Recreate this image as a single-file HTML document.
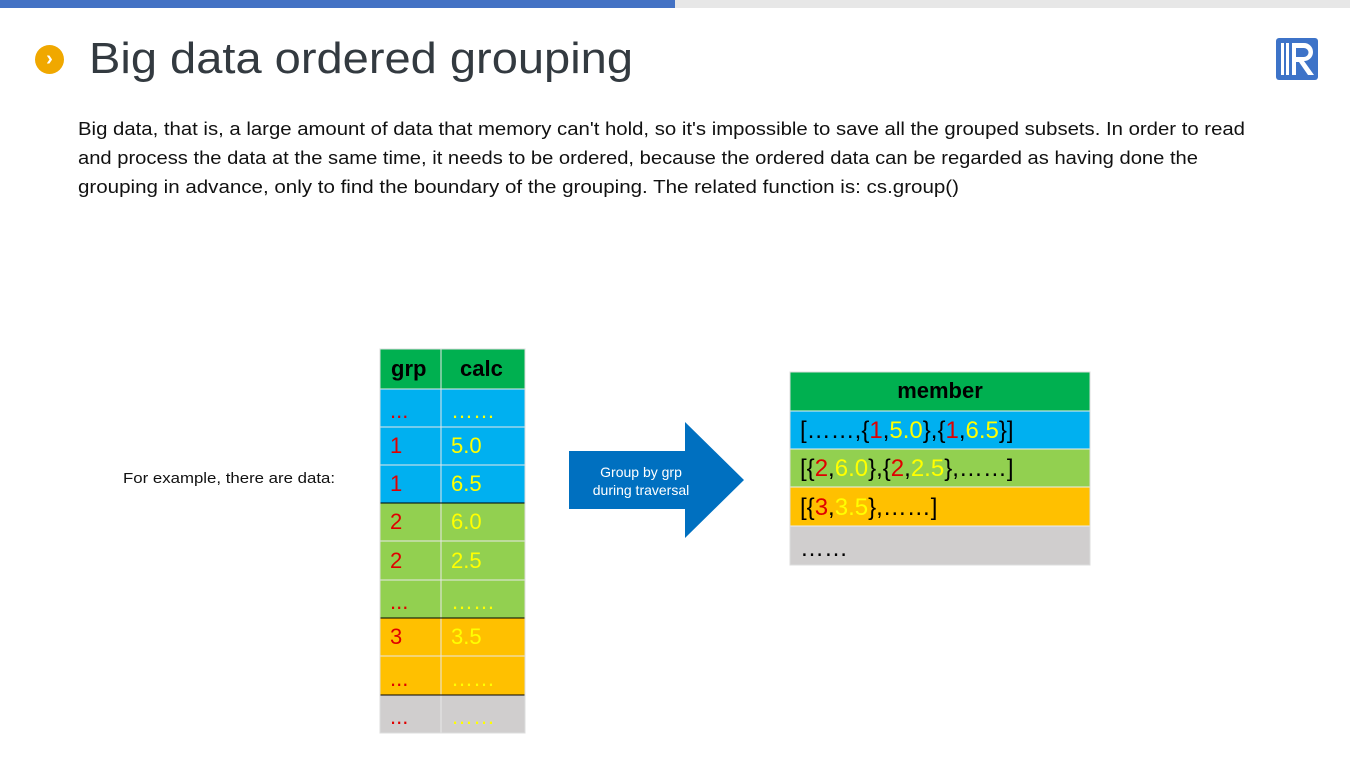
<!DOCTYPE html>
<html><head><meta charset="utf-8"><style>
body{margin:0;width:1350px;height:759px;background:#fff;position:relative;overflow:hidden;font-family:"Liberation Sans",sans-serif}
.a{position:absolute}
.c{position:absolute;font-family:"Liberation Sans",sans-serif;font-size:22px;line-height:38px}
.m{font-size:24px}
.r{color:#e00000}.y{color:#ffff00}.k{color:#000}
</style></head><body>
<div class="a" style="left:0;top:0;width:675px;height:8px;background:#4472c4"></div>
<div class="a" style="left:675px;top:0;width:675px;height:8px;background:#e7e7e7"></div>
<div class="a" style="left:35px;top:45px;width:29px;height:29px;border-radius:50%;background:#f0a800;color:#fff;font-weight:bold;font-size:20px;line-height:28px;text-align:center">›</div>
<svg class="a" style="left:0;top:0" width="1350" height="759">
<text x="89" y="73" font-family="Liberation Sans,sans-serif" font-size="44" fill="#333a40" textLength="544" lengthAdjust="spacingAndGlyphs">Big data ordered grouping</text>
<g font-family="Liberation Sans,sans-serif" font-size="18" fill="#111">
<text x="78" y="135" textLength="1167" lengthAdjust="spacingAndGlyphs">Big data, that is, a large amount of data that memory can't hold, so it's impossible to save all the grouped subsets. In order to read</text>
<text x="78" y="164" textLength="1120" lengthAdjust="spacingAndGlyphs">and process the data at the same time, it needs to be ordered, because the ordered data can be regarded as having done the</text>
<text x="78" y="193" textLength="881" lengthAdjust="spacingAndGlyphs">grouping in advance, only to find the boundary of the grouping. The related function is: cs.group()</text>
<text x="123" y="483" font-size="15" textLength="212" lengthAdjust="spacingAndGlyphs">For example, there are data:</text>
</g>
<rect x="1276" y="38" width="42" height="42" rx="3" fill="#3d73c8"/>
<rect x="1281" y="43" width="3" height="32" fill="#fff"/><rect x="1286" y="43" width="3" height="32" fill="#fff"/>
<path d="M1292 43 h12 a9 9 0 0 1 0 18 l10 14 h-6 l-9 -13 h-3 v13 h-4z M1296 48 v9 h8 a4.5 4.5 0 0 0 0 -9z" fill="#fff" fill-rule="evenodd"/>
<polygon points="569,451 685,451 685,422 744,480 685,538 685,509 569,509" fill="#0070c0"/>
<text x="641" y="477" text-anchor="middle" font-size="14" fill="#fff" font-family="Liberation Sans,sans-serif">Group by grp</text>
<text x="641" y="495" text-anchor="middle" font-size="14" fill="#fff" font-family="Liberation Sans,sans-serif">during traversal</text>
<rect x="380" y="349" width="145" height="40" fill="#00b050"/>
<rect x="380" y="389" width="145" height="114" fill="#00b0f0"/>
<rect x="380" y="503" width="145" height="115" fill="#92d050"/>
<rect x="380" y="618" width="145" height="77" fill="#ffc000"/>
<rect x="380" y="695" width="145" height="38" fill="#d0cece"/>
<g stroke="#e8e8e8" stroke-width="1">
<line x1="441" y1="349" x2="441" y2="733"/>
<line x1="380" y1="389" x2="525" y2="389"/><line x1="380" y1="427" x2="525" y2="427"/><line x1="380" y1="465" x2="525" y2="465"/>
<line x1="380" y1="541" x2="525" y2="541"/><line x1="380" y1="580" x2="525" y2="580"/><line x1="380" y1="656" x2="525" y2="656"/>
</g>
<g stroke="#000" stroke-width="1"><line x1="380" y1="503" x2="525" y2="503"/><line x1="380" y1="618" x2="525" y2="618"/><line x1="380" y1="695" x2="525" y2="695"/></g>
<rect x="380" y="349" width="145" height="384" fill="none" stroke="#ddd"/>
<rect x="790" y="372" width="300" height="39" fill="#00b050"/>
<rect x="790" y="411" width="300" height="38" fill="#00b0f0"/>
<rect x="790" y="449" width="300" height="38" fill="#92d050"/>
<rect x="790" y="487" width="300" height="39" fill="#ffc000"/>
<rect x="790" y="526" width="300" height="39" fill="#d0cece"/>
<g stroke="#eee"><line x1="790" y1="411" x2="1090" y2="411"/><line x1="790" y1="449" x2="1090" y2="449"/><line x1="790" y1="487" x2="1090" y2="487"/><line x1="790" y1="526" x2="1090" y2="526"/></g>
<rect x="790" y="372" width="300" height="193" fill="none" stroke="#ddd"/>
</svg>
<div class="c" style="left:391px;top:350px;font-weight:bold;font-size:22px">grp</div>
<div class="c" style="left:460px;top:350px;font-weight:bold;font-size:22px">calc</div>
<div class="c r" style="left:390px;top:392px">...</div><div class="c y" style="left:451px;top:392px">……</div>
<div class="c r" style="left:390px;top:427px">1</div><div class="c y" style="left:451px;top:427px">5.0</div>
<div class="c r" style="left:390px;top:465px">1</div><div class="c y" style="left:451px;top:465px">6.5</div>
<div class="c r" style="left:390px;top:503px">2</div><div class="c y" style="left:451px;top:503px">6.0</div>
<div class="c r" style="left:390px;top:542px">2</div><div class="c y" style="left:451px;top:542px">2.5</div>
<div class="c r" style="left:390px;top:583px">...</div><div class="c y" style="left:451px;top:583px">……</div>
<div class="c r" style="left:390px;top:618px">3</div><div class="c y" style="left:451px;top:618px">3.5</div>
<div class="c r" style="left:390px;top:660px">...</div><div class="c y" style="left:451px;top:660px">……</div>
<div class="c r" style="left:390px;top:698px">...</div><div class="c y" style="left:451px;top:698px">……</div>
<div class="c" style="left:790px;width:300px;text-align:center;top:372px;font-weight:bold">member</div>
<div class="c k m" style="left:800px;top:412px">[……,{<span class="r">1</span>,<span class="y">5.0</span>},{<span class="r">1</span>,<span class="y">6.5</span>}]</div>
<div class="c k m" style="left:800px;top:450px">[{<span class="r">2</span>,<span class="y">6.0</span>},{<span class="r">2</span>,<span class="y">2.5</span>},……]</div>
<div class="c k m" style="left:800px;top:489px">[{<span class="r">3</span>,<span class="y">3.5</span>},……]</div>
<div class="c k m" style="left:800px;top:530px">……</div>
</body></html>
